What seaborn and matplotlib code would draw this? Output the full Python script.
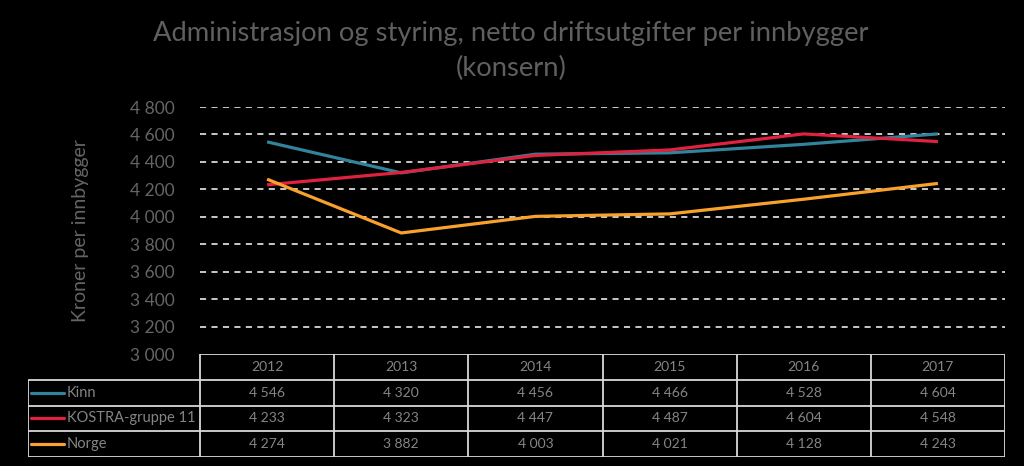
import numpy as np
import pandas as pd
import seaborn as sns
import matplotlib.pyplot as plt

years = ["2012", "2013", "2014", "2015", "2016", "2017"]
series_names = ["Kinn", "KOSTRA-gruppe 11", "Norge"]
kinn = [4546, 4320, 4456, 4466, 4528, 4604]
kostra = [4233, 4323, 4447, 4487, 4604, 4548]
norge = [4274, 3882, 4003, 4021, 4128, 4243]
colors = ["#31849B", "#E0213F", "#F9A12C"]

title = "Administrasjon og styring, netto driftsutgifter per innbygger\n(konsern)"
ylabel = "Kroner per innbygger"
yticks = [3000, 3200, 3400, 3600, 3800, 4000, 4200, 4400, 4600, 4800]


def fmt(v):
    return f"{v:,.0f}".replace(",", " ")


values = [kinn, kostra, norge]
df = pd.DataFrame({
    "x": np.tile(np.arange(len(years)), len(series_names)),
    "value": np.concatenate(values),
    "serie": np.repeat(series_names, len(years)),
})

sns.set_style("dark")
plt.rcParams["font.family"] = ["Lato", "DejaVu Sans"]

W, H = 1024, 466
fig = plt.figure(figsize=(W / 100, H / 100), dpi=100, facecolor="black")

# main plot area (pixel box -> figure fractions)
px0, px1, py_top, py_bot = 200, 1005, 107, 354
ax = fig.add_axes([px0 / W, (H - py_bot) / H, (px1 - px0) / W, (py_bot - py_top) / H])
ax.set_facecolor("black")
sns.lineplot(data=df, x="x", y="value", hue="serie", palette=colors,
             linewidth=2.3, ax=ax, legend=False)
ax.set_xlim(-0.5, len(years) - 0.5)
ax.set_ylim(3000, 4800)
ax.set_yticks(yticks)
ax.set_yticklabels([fmt(v) for v in yticks], color="#656565", fontsize=12.5)
ax.set_xticks([])
ax.set_xlabel("")
ax.set_ylabel(ylabel, color="#656565", fontsize=14, labelpad=30)
ax.tick_params(axis="y", length=0, pad=18)
ax.grid(False)
for v in yticks[1:]:
    ax.axhline(v, color="white", lw=1.1, ls=(0, (4, 3.5)), zorder=0)
for s in ax.spines.values():
    s.set_visible(False)
for ln in ax.lines[:len(series_names)]:
    ln.set_solid_capstyle("butt")

fig.text(511 / W, 1 - 51 / H, title, ha="center", va="center", color="#5f5f5f",
         fontsize=19.7, linespacing=1.45)

# data table below the plot
tx0, tx1, ty_top, ty_bot = 28, 1005, 354, 457
leg_w = (px0 - tx0) / ((px1 - px0) / len(years))
tax = fig.add_axes([tx0 / W, (H - ty_bot) / H, (tx1 - tx0) / W, (ty_bot - ty_top) / H])
tax.set_facecolor("black")
tax.set_xlim(-0.5 - leg_w, len(years) - 0.5)
tax.set_ylim(len(series_names) + 1, 0)
tax.axis("off")
edge = "#d9d9d9"
nrow = len(series_names) + 1
left = -0.5 - leg_w
right = len(years) - 0.5
# header row (years) only spans year columns
tax.hlines(0, -0.5, right, color=edge, lw=1.3)
for r in range(1, nrow + 1):
    tax.hlines(r, left, right, color=edge, lw=1.3)
tax.vlines(left, 1, nrow, color=edge, lw=1.3)
for c in range(len(years) + 1):
    tax.vlines(c - 0.5, 0, nrow, color=edge, lw=1.3)
txt_col = "#858585"
for c, yr in enumerate(years):
    tax.text(c, 0.5, yr, ha="center", va="center", color=txt_col, fontsize=10)
for r, (name, vals, col) in enumerate(zip(series_names, values, colors)):
    yy = r + 1.5
    tax.plot([left + 0.02, left + 0.27], [yy, yy], color=col, lw=2.3,
             solid_capstyle="round")
    tax.text(left + 0.29, yy, name, ha="left", va="center", color=txt_col, fontsize=10.5)
    for c, v in enumerate(vals):
        tax.text(c, yy, fmt(v), ha="center", va="center", color=txt_col, fontsize=10)

fig.savefig("out.png", dpi=100, facecolor="black")
